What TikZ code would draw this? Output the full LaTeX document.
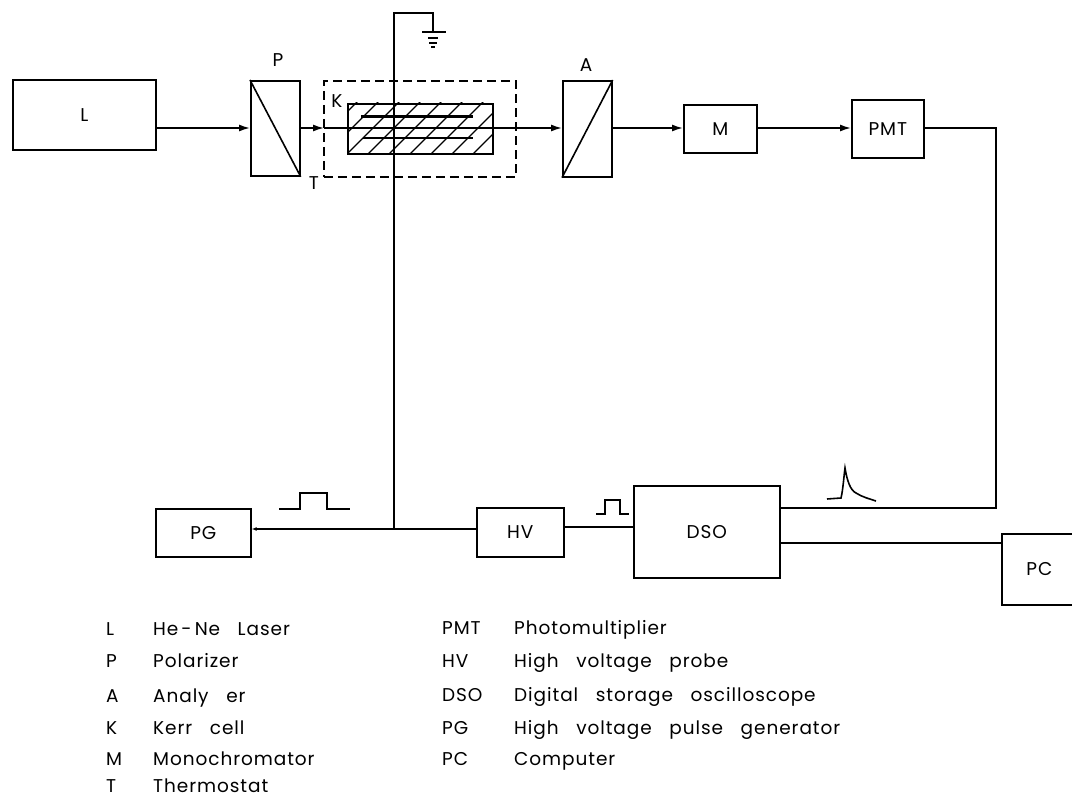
\documentclass[tikz,border=0pt]{standalone}
\usepackage{fontspec}
\setmainfont[LetterSpace=5,WordSpace=3]{Poppins}
\usetikzlibrary{arrows.meta}
\tikzset{
  box/.style={draw,line width=1.7pt,inner sep=0pt,anchor=north west,font=\fontsize{18.5}{20}\selectfont},
  wire/.style={line width=1.6pt},
  beam/.style={wire,-{Latex[length=11pt,width=7pt]}},
  lab/.style={anchor=base west,inner sep=0pt,font=\fontsize{18.5}{20}\selectfont},
  tag/.style={inner sep=0pt,font=\fontsize{18.5}{20}\selectfont}
}
\begin{document}
\begin{tikzpicture}[x=1pt,y=-1pt]
\useasboundingbox (0,0) rectangle (1072,799);
\node[box,minimum width=143pt,minimum height=70pt] (L) at (12,79) {L};
\node[box,minimum width=49pt,minimum height=95pt] (P) at (250,80) {};
\node[box,minimum width=49pt,minimum height=96pt] (A) at (562,80) {};
\draw[wire] (P.north west) -- (P.south east);
\draw[wire] (A.south west) -- (A.north east);
\node[box,minimum width=145pt,minimum height=50pt] (K) at (347,103) {};
\node[box,dash pattern=on 9pt off 5pt,minimum width=192pt,minimum height=96pt] (T) at (323,80) {};
\node[box,minimum width=73pt,minimum height=48pt] (M) at (683,104) {M};
\node[box,minimum width=72pt,minimum height=58pt] (PMT) at (851,99) {PMT};
\node[box,minimum width=95pt,minimum height=48pt] (PG) at (155,508) {PG};
\node[box,minimum width=87pt,minimum height=49pt] (HV) at (476,507) {HV};
\node[box,minimum width=146pt,minimum height=92pt] (DSO) at (633,485) {DSO};
\node[box,minimum width=75pt,minimum height=71pt] (PC) at (1001,533) {PC};
\begin{scope}
\clip (K.north west) rectangle (K.south east);
\foreach \i in {0,...,9}
  \draw[line width=1.1pt] ({296+\i*21},163) -- ++(70,-70);
\end{scope}
\node[tag] (labP) at (278,60) {P};
\node[tag] (labA) at (586,65) {A};
\node[tag] (labK) at (337,101) {K};
\node[tag] (labT) at (314,183) {T};
\coordinate (e1a) at (361,116.5); \coordinate (e1b) at (473,116.5);
\coordinate (e2a) at (363,138); \coordinate (e2b) at (473,138);
\draw[line width=2.2pt] (e1a) -- (e1b);
\draw[line width=2.2pt] (e2a) -- (e2b);
\draw[beam] (L.east |- 0,128) -- (P.west |- 0,128);
\draw[beam] (P.east |- 0,128) -- (324,128);
\draw[wire] (324,128) -- (K.west |- 0,128);
\draw[wire] (K.west |- 0,128) -- (K.east |- 0,128);
\draw[beam] (K.east |- 0,128) -- (A.west |- 0,128);
\draw[beam] (A.east |- 0,128) -- (M.west |- 0,128);
\draw[beam] (M.east |- 0,128) -- (PMT.west |- 0,128);
\coordinate (corner) at (996,128);
\coordinate (corner2) at (996,508);
\draw[wire] (PMT.east |- corner) -- (corner) -- (corner2) -- (DSO.east |- corner2);
\draw[wire] (DSO.east |- 0,543) -- (PC.west |- 0,543);
\coordinate (J) at (394,529);
\coordinate (g0) at (394,13);
\coordinate (g1) at (433,13);
\coordinate (g2) at (433,32);
\draw[wire] (J) -- (g0) -- (g1) -- (g2);
\draw[wire] (422,32) -- (446,32);
\draw[wire] (428,38) -- (438,38);
\draw[wire] (429,43) -- (437,43);
\draw[wire] (431,47) -- (435,47);
\draw[wire,-{Latex[length=5pt,width=4pt]}] (J) -- (PG.east |- J);
\draw[wire] (J) -- (HV.west |- J);
\draw[wire] (HV.east |- 0,527) -- (DSO.west |- 0,527);
\draw[wire] (279,509) -- (300,509) -- (300,493) -- (327,493) -- (327,509) -- (350,509);
\draw[wire] (596,514) -- (605,514) -- (605,500) -- (620,500) -- (620,514) -- (629,514);
\draw[wire] (827,499) -- (841,498) .. controls (843,490) and (844,475) .. (845,468) .. controls (847,480) and (850,490) .. (856,493) .. controls (862,497) and (870,499) .. (876,501);
\foreach \y/\a in {635/L,667/P,702/A,734/K,765/M,792/T}
  \node[lab] at (106,\y) {\a};
\foreach \y/\b in {635/{He\,-\,Ne Laser},667/Polarizer,702/{Analy er},734/{Kerr cell},765/Monochromator,792/Thermostat}
  \node[lab] at (153,\y) {\b};
\foreach \y/\a/\b in {634/PMT/Photomultiplier,667/HV/High voltage probe,701/DSO/Digital storage oscilloscope,734/PG/High voltage pulse generator,765/PC/Computer}
  {\node[lab] at (442,\y) {\a}; \node[lab] at (514,\y) {\b};}
\end{tikzpicture}
\end{document}
